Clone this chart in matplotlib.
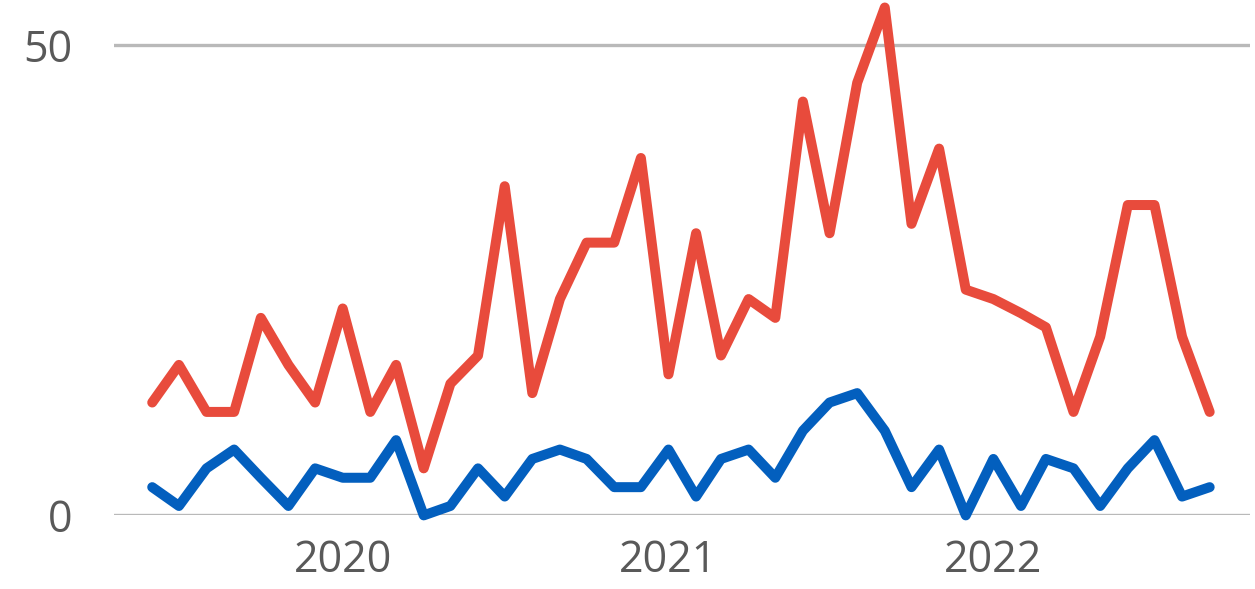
import datetime as dt

import matplotlib
matplotlib.use("Agg")
import matplotlib.dates as mdates
import matplotlib.pyplot as plt

_RED = "#e84b3c"
_BLUE = "#035fbe"
_GRID = "#b9b9b9"
_LABEL = "#595959"

# monthly points, June 2019 .. September 2022
months = [dt.date(2019 + (5 + i) // 12, (5 + i) % 12 + 1, 1) for i in range(40)]

red_values = [12, 16, 11, 11, 21, 16, 12, 22, 11, 16,
              5, 14, 17, 35, 13, 23, 29, 29, 38, 15,
              30, 17, 23, 21, 44, 30, 46, 54, 31, 39,
              24, 23, 21.5, 20, 11, 19, 33, 33, 19, 11]
blue_values = [3, 1, 5, 7, 4, 1, 5, 4, 4, 8,
               0, 1, 5, 2, 6, 7, 6, 3, 3, 7,
               2, 6, 7, 4, 9, 12, 13, 9, 3, 7,
               0, 6, 1, 6, 5, 1, 5, 8, 2, 3]

y_ticks = [0, 50]
x_ticks = [dt.date(2020, 1, 1), dt.date(2021, 1, 1), dt.date(2022, 1, 1)]

plt.rcParams["font.family"] = ["Open Sans", "DejaVu Sans"]

fig = plt.figure(figsize=(12.55, 5.89), dpi=100)
ax = fig.add_axes([0.0908, 0.125, 0.905, 0.875])

ax.plot(months, red_values, color=_RED, linewidth=7.2,
        solid_capstyle="round", solid_joinstyle="round", zorder=3, clip_on=False)
ax.plot(months, blue_values, color=_BLUE, linewidth=7.2,
        solid_capstyle="round", solid_joinstyle="round", zorder=3, clip_on=False)

ax.set_ylim(0, 54.8)
ax.set_xlim(dt.date(2019, 4, 19), dt.date(2022, 10, 16))
ax.set_yticks(y_ticks)
ax.set_xticks(x_ticks)
ax.xaxis.set_major_formatter(mdates.DateFormatter("%Y"))

ax.grid(axis="y", color=_GRID, linewidth=2.4, zorder=0)
ax.set_axisbelow(True)
for spine in ax.spines.values():
    spine.set_visible(False)
ax.tick_params(axis="both", length=0, labelsize=31, colors=_LABEL)
ax.tick_params(axis="y", pad=30)
ax.tick_params(axis="x", pad=17)

fig.savefig("out.png", dpi=100)
